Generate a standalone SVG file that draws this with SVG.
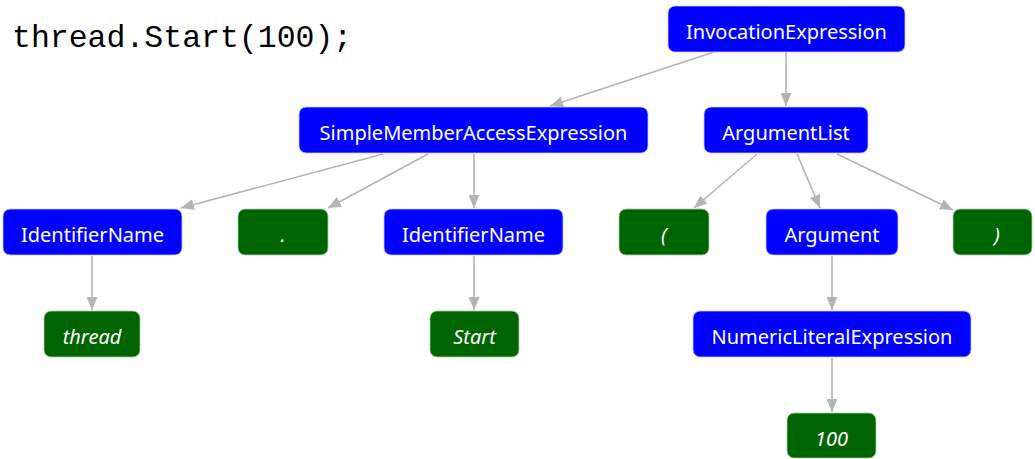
<svg xmlns="http://www.w3.org/2000/svg" width="1035" height="459" viewBox="0 0 1035 459">
  <style>
    .code { font-family: "Liberation Mono", "DejaVu Sans Mono", monospace; font-size: 31.5px; fill: #000; }
    .syn rect { fill: #0000ff; stroke: #c8c8ff; stroke-width: 0.8; }
    .tok rect { fill: #006400; stroke: #b0c8b0; stroke-width: 0.8; }
    .lbl { font-family: "Noto Sans", "Open Sans", sans-serif; font-size: 20px; fill: #ffffff; text-anchor: middle; dominant-baseline: central; }
    .tok .lbl { font-style: italic; }
    .edges line { stroke: #b4b4b4; stroke-width: 1.6; marker-end: url(#arrow); }
  </style>
  <defs>
    <marker id="arrow" viewBox="0 0 13 11" refX="13" refY="5.5" markerWidth="13" markerHeight="11" markerUnits="userSpaceOnUse" orient="auto">
      <path d="M0,0 L13,5.5 L0,11 z" fill="#b4b4b4"/>
    </marker>
  </defs>
  <rect width="1035" height="459" fill="#ffffff"/>

  <text class="code" x="12" y="47">thread.Start(100);</text>

  <g class="edges">
    <line x1="714" y1="52" x2="550" y2="106"/>
    <line x1="786" y1="52" x2="786" y2="106"/>
    <line x1="383" y1="154" x2="181" y2="208"/>
    <line x1="428" y1="154" x2="328" y2="208"/>
    <line x1="474" y1="154" x2="474" y2="208"/>
    <line x1="757" y1="154" x2="694" y2="208"/>
    <line x1="797" y1="154" x2="820" y2="208"/>
    <line x1="837" y1="154" x2="953" y2="210"/>
    <line x1="92" y1="256" x2="92" y2="310"/>
    <line x1="474" y1="256" x2="474" y2="310"/>
    <line x1="832" y1="256" x2="832" y2="310"/>
    <line x1="832" y1="358" x2="832" y2="412"/>
  </g>

  <g id="invocation" class="syn">
    <rect x="668" y="6" width="237" height="46" rx="7"/>
    <text class="lbl" x="786.5" y="31">InvocationExpression</text>
  </g>
  <g id="member-access" class="syn">
    <rect x="299" y="107" width="349" height="46" rx="7"/>
    <text class="lbl" x="473.5" y="132">SimpleMemberAccessExpression</text>
  </g>
  <g id="argument-list" class="syn">
    <rect x="704" y="107" width="164" height="46" rx="7"/>
    <text class="lbl" x="786" y="132">ArgumentList</text>
  </g>
  <g id="identifier-thread" class="syn">
    <rect x="3" y="209" width="179" height="46" rx="7"/>
    <text class="lbl" x="92.5" y="234">IdentifierName</text>
  </g>
  <g id="dot-token" class="tok">
    <rect x="238" y="209" width="90" height="46" rx="7"/>
    <text class="lbl" x="283" y="234">.</text>
  </g>
  <g id="identifier-start" class="syn">
    <rect x="384" y="209" width="179" height="46" rx="7"/>
    <text class="lbl" x="473.5" y="234">IdentifierName</text>
  </g>
  <g id="open-paren" class="tok">
    <rect x="619" y="209" width="90" height="46" rx="7"/>
    <text class="lbl" x="664" y="234">(</text>
  </g>
  <g id="argument" class="syn">
    <rect x="766" y="209" width="132" height="46" rx="7"/>
    <text class="lbl" x="832" y="234">Argument</text>
  </g>
  <g id="close-paren" class="tok">
    <rect x="953" y="209" width="79" height="46" rx="7"/>
    <text class="lbl" x="997" y="234">)</text>
  </g>
  <g id="thread-token" class="tok">
    <rect x="44" y="311" width="96" height="46" rx="7"/>
    <text class="lbl" x="92" y="336">thread</text>
  </g>
  <g id="start-token" class="tok">
    <rect x="430" y="311" width="89" height="46" rx="7"/>
    <text class="lbl" x="474.5" y="336">Start</text>
  </g>
  <g id="numeric-literal" class="syn">
    <rect x="693" y="311" width="278" height="46" rx="7"/>
    <text class="lbl" x="832" y="336">NumericLiteralExpression</text>
  </g>
  <g id="literal-100" class="tok">
    <rect x="787" y="413" width="89" height="45" rx="7"/>
    <text class="lbl" x="831.5" y="438">100</text>
  </g>
</svg>
